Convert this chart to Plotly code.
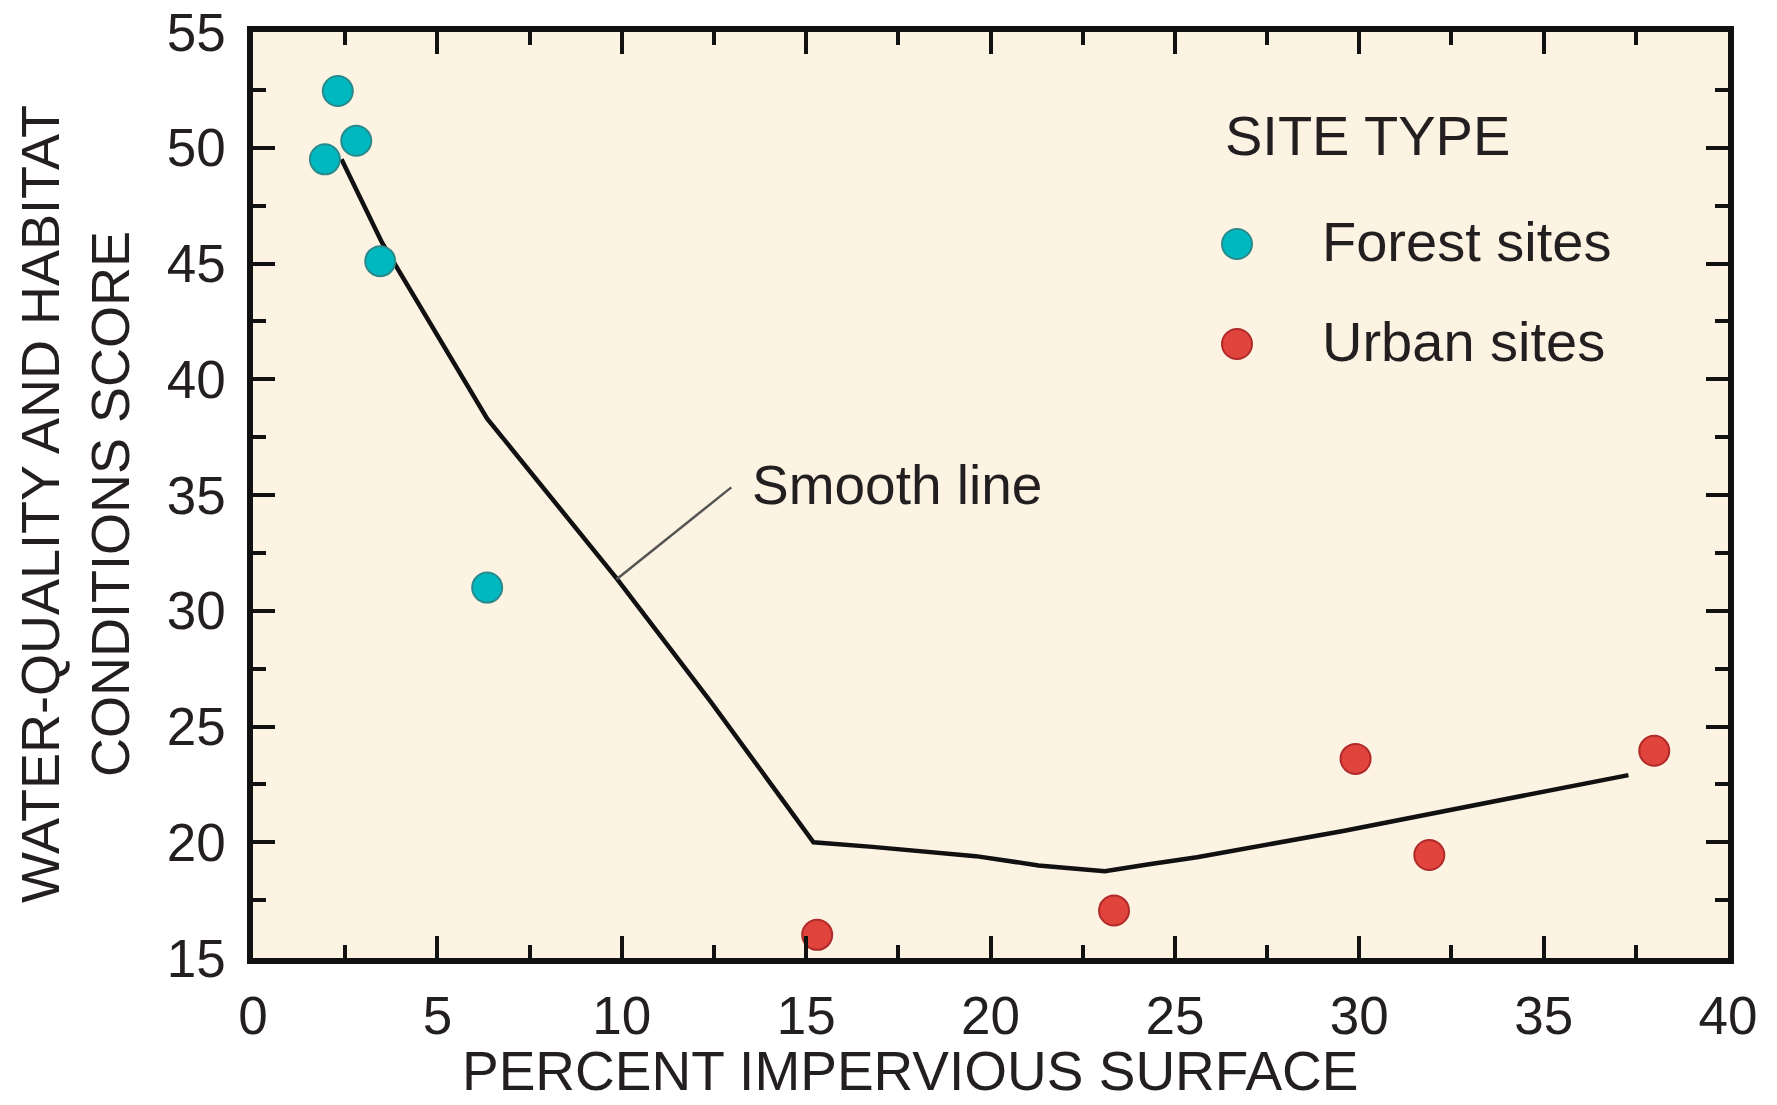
import plotly.graph_objects as go

# ---- data ----
forest_x = [2.3, 2.8, 1.95, 3.45, 6.35]
forest_y = [52.45, 50.3, 49.5, 45.1, 31.0]

urban_x = [15.3, 23.35, 29.9, 31.9, 38.0]
urban_y = [16.0, 17.05, 23.6, 19.45, 23.95]

smooth_x = [2.4, 3.5, 6.35, 9.86, 12.4, 14.8, 15.2, 16.8, 19.6, 21.3, 23.1, 24.3, 25.6, 29.6, 37.3]
smooth_y = [49.5, 45.9, 38.3, 31.4, 26.1, 20.9, 20.0, 19.8, 19.4, 19.0, 18.75, 19.05, 19.35, 20.5, 22.9]

x_ticks = [0, 5, 10, 15, 20, 25, 30, 35, 40]
y_ticks = [15, 20, 25, 30, 35, 40, 45, 50, 55]

leader_x = [9.86, 12.97]
leader_y = [31.36, 35.33]

FONT = "Liberation Sans, Arial, sans-serif"
TXT = "#231f20"
BG = "#fdf3e3"
TEAL = "#00b8c0"
TEAL_EDGE = "#2a8a8c"
RED = "#e0443c"
RED_EDGE = "#b02a2a"

fig = go.Figure()

fig.add_trace(go.Scatter(
    x=smooth_x, y=smooth_y, mode="lines",
    line=dict(color="#111111", width=4.5),
    name="Smooth line", showlegend=False, hoverinfo="skip"))

fig.add_trace(go.Scatter(
    x=forest_x, y=forest_y, mode="markers", name="Forest sites",
    marker=dict(size=30, color=TEAL, line=dict(color=TEAL_EDGE, width=2)),
    showlegend=False))

fig.add_trace(go.Scatter(
    x=urban_x, y=urban_y, mode="markers", name="Urban sites",
    marker=dict(size=30, color=RED, line=dict(color=RED_EDGE, width=2)),
    showlegend=False))

# leader line for "Smooth line" label
fig.add_shape(type="line", xref="x", yref="y",
              x0=leader_x[0], y0=leader_y[0], x1=leader_x[1], y1=leader_y[1],
              line=dict(color="#555555", width=2.5))
fig.add_annotation(x=13.49, y=35.3, xref="x", yref="y", text="Smooth line",
                   showarrow=False, xanchor="left", yanchor="middle", yshift=3,
                   font=dict(family=FONT, size=55, color=TXT))

# plot-area geometry (pixels)
L = 253
W = 1475
T = 32
H = 926


def px(xp):
    return (xp - L) / W


def py(yp):
    return (T + H - yp) / H


# manual legend
fig.add_annotation(x=px(1223), y=py(139), xref="paper", yref="paper", text="SITE TYPE",
                   showarrow=False, xanchor="left", yanchor="middle", yshift=3,
                   font=dict(family=FONT, size=56, color=TXT))
for ty, label, col, edge in [(244, "Forest sites", TEAL, TEAL_EDGE), (344, "Urban sites", RED, RED_EDGE)]:
    fig.add_shape(type="circle", xref="paper", yref="paper",
                  xsizemode="pixel", ysizemode="pixel",
                  xanchor=px(1237), yanchor=py(ty),
                  x0=-15, x1=15, y0=-15, y1=15,
                  fillcolor=col, line=dict(color=edge, width=2))
    fig.add_annotation(x=px(1320), y=py(ty), xref="paper", yref="paper", text=label,
                       showarrow=False, xanchor="left", yanchor="middle", yshift=3,
                       font=dict(family=FONT, size=56, color=TXT))

# axis titles
fig.add_annotation(x=px(910), y=py(1071), xref="paper", yref="paper",
                   text="PERCENT IMPERVIOUS SURFACE", showarrow=False,
                   xanchor="center", yanchor="middle",
                   font=dict(family=FONT, size=55, color=TXT))
fig.add_annotation(x=px(75), y=py(504), xref="paper", yref="paper",
                   text="WATER-QUALITY AND HABITAT<br>CONDITIONS SCORE", showarrow=False,
                   textangle=-90, xanchor="center", yanchor="middle",
                   font=dict(family=FONT, size=54, color=TXT))

axis_common = dict(
    showgrid=False, zeroline=False, automargin=False,
    showline=True, linecolor="#111111", linewidth=5.5, mirror="ticks",
    ticks="inside", ticklen=22, tickwidth=3.5, tickcolor="#111111",
    tickfont=dict(family=FONT, size=53, color=TXT),
    minor=dict(ticks="inside", ticklen=13, tickwidth=3.5, tickcolor="#111111", dtick=2.5),
)

fig.update_xaxes(range=[0, 40], tickvals=x_ticks, ticktext=[str(v) for v in x_ticks],
                 ticklabelstandoff=7, **axis_common)
fig.update_yaxes(range=[15, 55], tickvals=y_ticks, ticktext=[str(v) for v in y_ticks],
                 ticklabelstandoff=11, **axis_common)

fig.update_layout(
    width=1777, height=1105, autosize=False,
    margin=dict(l=L, r=1777 - L - W, t=T, b=1105 - T - H, pad=0),
    paper_bgcolor="white", plot_bgcolor=BG,
    showlegend=False,
    font=dict(family=FONT, color=TXT),
)

fig.write_html(
    "out.html",
    config={"displayModeBar": False},
    post_script="document.body.style.margin='0px';document.body.style.overflow='hidden';",
)
